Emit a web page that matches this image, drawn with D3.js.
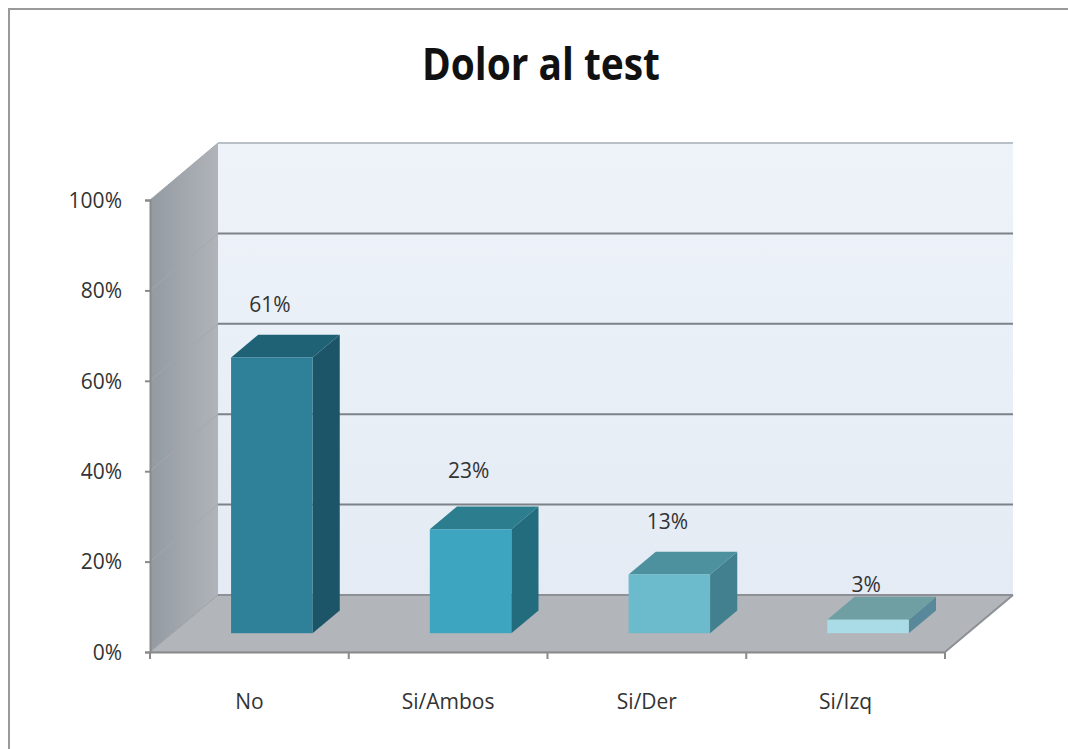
<!DOCTYPE html>
<html>
<head>
<meta charset="utf-8">
<script src="https://cdn.jsdelivr.net/npm/d3@7"></script>
<style>
  html, body { margin: 0; padding: 0; background: #fff; }
  svg { display: block; }
</style>
</head>
<body>
<svg id="chart" width="1068" height="749"></svg>
<script>
// ---- data ----
const title = "Dolor al test";
const categories = ["No", "Si/Ambos", "Si/Der", "Si/Izq"];
const values = [61, 23, 13, 3];
const valueLabels = ["61%", "23%", "13%", "3%"];
const yTicks = [0, 20, 40, 60, 80, 100];
const yTickLabels = ["0%", "20%", "40%", "60%", "80%", "100%"];
const frontColors = ["#2f8199", "#3ea5c0", "#6cbbcc", "#a9dce6"];
const topColors   = ["#1f6276", "#2c7e8e", "#4d909e", "#6f9ea3"];
const sideColors  = ["#1c5567", "#226c7d", "#43808f", "#58899a"];

// ---- geometry ----
const svg = d3.select("#chart");
const x0 = 150, x1 = 945, yBottom = 652, yTop = 200;
const DX = 68, DY = 57;               // full depth offset
const dFront = 0.33, dBack = 0.73;    // bar depth placement

const x = d3.scaleBand().domain(categories).range([x0, x1]);
const y = d3.scaleLinear().domain([0, 100]).range([yBottom, yTop]);
const P = (px, py, d) => [px + DX * d, py - DY * d];
const poly = pts => "M" + pts.map(p => p.join(",")).join("L") + "Z";
const FONT = "'Open Sans', sans-serif";

// outer frame
svg.append("path").attr("d", "M9,749 L9,9 L1068,9").attr("fill", "none")
  .attr("stroke", "#9a9a9a").attr("stroke-width", 2);

// defs for gradients
const defs = svg.append("defs");
const gWall = defs.append("linearGradient").attr("id", "wall").attr("x1", 0).attr("x2", 0).attr("y1", 0).attr("y2", 1);
gWall.append("stop").attr("offset", 0).attr("stop-color", "#eef3f9");
gWall.append("stop").attr("offset", 1).attr("stop-color", "#e4ebf4");
const gSide = defs.append("linearGradient").attr("id", "side").attr("x1", 0).attr("x2", 1).attr("y1", 0).attr("y2", 0);
gSide.append("stop").attr("offset", 0).attr("stop-color", "#939aa1");
gSide.append("stop").attr("offset", 1).attr("stop-color", "#b0b4b9");

// back wall
svg.append("path")
  .attr("d", poly([P(x0, y(0), 1), P(x0, y(100), 1), P(x1, y(100), 1), P(x1, y(0), 1)]))
  .attr("fill", "url(#wall)");
// side wall
svg.append("path")
  .attr("d", poly([P(x0, y(0), 0), P(x0, y(100), 0), P(x0, y(100), 1), P(x0, y(0), 1)]))
  .attr("fill", "url(#side)");
// floor
svg.append("path")
  .attr("d", poly([P(x0, y(0), 0), P(x0, y(0), 1), P(x1, y(0), 1), P(x1, y(0), 0)]))
  .attr("fill", "#b2b5b9").attr("stroke", "#9c9fa3").attr("stroke-width", 1);

// gridlines on back wall and side wall
yTicks.forEach(t => {
  if (t === 0) return;
  const a = P(x0, y(t), 1), b = P(x1, y(t), 1);
  svg.append("line").attr("x1", a[0]).attr("y1", a[1]).attr("x2", b[0]).attr("y2", b[1])
    .attr("stroke", t === 100 ? "#b9c0c8" : "#7d8288").attr("stroke-width", 2);
  const c = P(x0, y(t), 0);
  svg.append("line").attr("x1", c[0]).attr("y1", c[1]).attr("x2", a[0]).attr("y2", a[1])
    .attr("stroke", "#a4a8ad").attr("stroke-width", 1);
});
// back floor line
{
  const a = P(x0, y(0), 1), b = P(x1, y(0), 1);
  svg.append("line").attr("x1", a[0]).attr("y1", a[1]).attr("x2", b[0]).attr("y2", b[1])
    .attr("stroke", "#8d9196").attr("stroke-width", 2);
}

// axes (front plane)
const yAxis = d3.axisLeft(y).tickValues(yTicks).tickFormat((d, i) => yTickLabels[i]).tickSize(5).tickPadding(23);
const gy = svg.append("g").attr("transform", `translate(${x0},0)`).call(yAxis);
gy.select(".domain").attr("stroke", "#8a8a8a").attr("stroke-width", 2);
gy.selectAll(".tick line").attr("stroke", "#8a8a8a").attr("stroke-width", 2);
gy.selectAll("text").attr("font-family", FONT).attr("font-size", 21)
  .attr("fill", "#333").attr("dy", "0.35em");

const xAxis = d3.axisBottom(x).tickSize(0).tickPadding(42);
const gx = svg.append("g").attr("transform", `translate(0,${yBottom})`).call(xAxis);
gx.select(".domain").attr("stroke", "#8a8a8a").attr("stroke-width", 2);
gx.selectAll("text").attr("font-family", FONT).attr("font-size", 21).attr("fill", "#333");
// category separator ticks
const sepTicks = categories.map(c => x(c)).concat([x1]);
gx.selectAll(".sep").data(sepTicks).enter().append("line")
  .attr("x1", d => d).attr("x2", d => d).attr("y1", 0).attr("y2", 7)
  .attr("stroke", "#8a8a8a").attr("stroke-width", 2);
// right floor edge
{
  const a = P(x1, y(0), 0), b = P(x1, y(0), 1);
  svg.append("line").attr("x1", a[0]).attr("y1", a[1]).attr("x2", b[0]).attr("y2", b[1])
    .attr("stroke", "#8d9196").attr("stroke-width", 2);
}

// bars
const bw = x.bandwidth() * 0.41;
const bo = x.bandwidth() * 0.295;
categories.forEach((c, i) => {
  const xl = x(c) + bo, xr = xl + bw;
  const yb = y(0), yt = y(values[i]);
  const g = svg.append("g");
  // side face
  g.append("path").attr("d", poly([P(xr, yb, dFront), P(xr, yt, dFront), P(xr, yt, dBack), P(xr, yb, dBack)]))
    .attr("fill", sideColors[i]);
  // top face
  g.append("path").attr("d", poly([P(xl, yt, dFront), P(xl, yt, dBack), P(xr, yt, dBack), P(xr, yt, dFront)]))
    .attr("fill", topColors[i]);
  // front face
  const f0 = P(xl, yt, dFront), f1 = P(xr, yb, dFront);
  g.append("rect").attr("x", f0[0]).attr("y", f0[1]).attr("width", f1[0] - f0[0]).attr("height", f1[1] - f0[1])
    .attr("fill", frontColors[i]);
  // label
  const lt = P((xl + xr) / 2, yt, dFront);
  svg.append("text").attr("x", lt[0] - 2).attr("y", lt[1] - (values[i] < 5 ? 28 : (i === 1 ? 51 : 45)))
    .attr("text-anchor", "middle").attr("font-family", FONT)
    .attr("font-size", 21).attr("fill", "#333").text(valueLabels[i]);
});

// title
svg.append("text").attr("x", 541).attr("y", 80).attr("text-anchor", "middle")
  .attr("font-family", FONT).attr("font-weight", "bold")
  .attr("font-size", 44).attr("fill", "#111")
  .attr("textLength", 238).attr("lengthAdjust", "spacingAndGlyphs").text(title);
</script>
</body>
</html>
